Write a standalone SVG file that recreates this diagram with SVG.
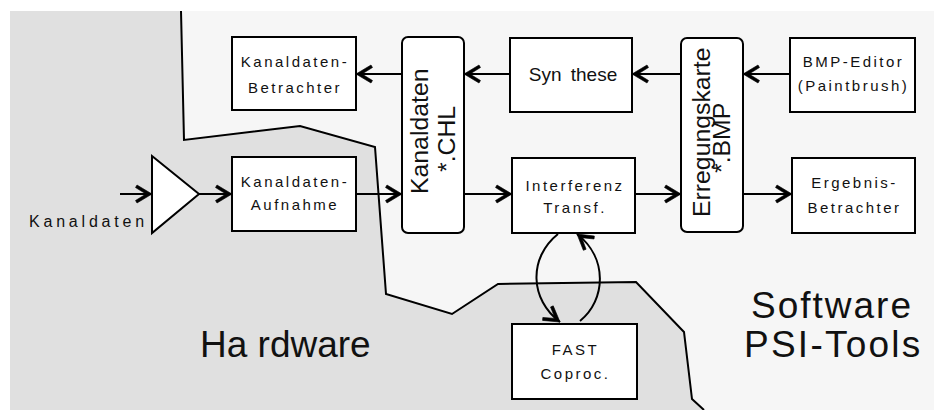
<svg xmlns="http://www.w3.org/2000/svg" width="934" height="410" viewBox="0 0 934 410">
<style>
.box{fill:#fff;stroke:#000;stroke-width:2}
.lbl{font-family:"Liberation Sans",Arial,sans-serif;font-size:15px;letter-spacing:2.5px;text-anchor:middle;fill:#111}
.big{font-family:"Liberation Sans",Arial,sans-serif;font-size:37px;fill:#111}
.rot{font-family:"Liberation Sans",Arial,sans-serif;font-size:24.8px;fill:#111}
.con{fill:none;stroke:#000;stroke-width:2;marker-end:url(#ah)}
</style>
<defs>
<marker id="ah" markerUnits="userSpaceOnUse" markerWidth="20" markerHeight="20" viewBox="-18 -10 20 20" refX="0" refY="0" orient="auto">
<path d="M0,0 L-15,-9 L-16.5,-6.5 L-6,0 L-16.5,6.5 L-15,9 Z" fill="#000" stroke="#000" stroke-width="0.6"/>
</marker>
</defs>
<rect x="0" y="0" width="934" height="410" fill="#fff"/>
<rect x="10" y="11" width="924" height="399" fill="#f6f6f6"/>
<polygon points="10,11 181,11 184,140 300,126 375,147 386,294 452,314 498,284 636,282 684,332 692,399 704,410 10,410" fill="#e0e0e0"/>
<polyline points="181,11 184,140 300,126 375,147 386,294 452,314 498,284 636,282 684,332 692,399 704,410" fill="none" stroke="#000" stroke-width="2"/>

<g id="connectors">
<line class="con" x1="120" y1="194" x2="152" y2="194"/>
<line class="con" x1="199" y1="194" x2="232" y2="194"/>
<line class="con" x1="356" y1="194" x2="402" y2="194"/>
<line class="con" x1="464" y1="194" x2="512" y2="194"/>
<line class="con" x1="635" y1="194" x2="681" y2="194"/>
<line class="con" x1="743" y1="194" x2="792" y2="194"/>
<line class="con" x1="790" y1="74" x2="743" y2="74"/>
<line class="con" x1="681" y1="74" x2="632" y2="74"/>
<line class="con" x1="510" y1="74" x2="464" y2="74"/>
<line class="con" x1="402" y1="74" x2="356" y2="74"/>
<path class="con" d="M558,234 C528,258 530,300 560,322"/>
<path class="con" d="M580,321 C606,300 608,258 577,234"/>
</g>

<g id="input">
<text x="29" y="227" style="font-family:'Liberation Sans',Arial,sans-serif;font-size:16px;letter-spacing:3.8px;fill:#111">Kanaldaten</text>
</g>
<g id="amplifier">
<polygon points="152,156 199,194 152,233" fill="#fff" stroke="#000" stroke-width="2"/>
</g>
<g id="kanaldaten-betrachter">
<rect class="box" x="232" y="37" width="124" height="73"/>
<text class="lbl" x="295" y="67">Kanaldaten-</text>
<text class="lbl" x="295" y="93">Betrachter</text>
</g>
<g id="kanaldaten-aufnahme">
<rect class="box" x="232" y="157" width="124" height="74"/>
<text class="lbl" x="295" y="187">Kanaldaten-</text>
<text class="lbl" x="295" y="210">Aufnahme</text>
</g>
<g id="kanaldaten-chl">
<rect class="box" x="402" y="37" width="62" height="196" rx="6"/>
<text class="rot" transform="translate(428,194) rotate(-90)">Kanaldaten</text>
<text class="rot" transform="translate(455,172) rotate(-90)">*.CHL</text>
</g>
<g id="synthese">
<rect class="box" x="510" y="38" width="122" height="74"/>
<text x="573" y="81" style="font-family:'Liberation Sans',Arial,sans-serif;font-size:19px;word-spacing:4px;text-anchor:middle;fill:#111">Syn these</text>
</g>
<g id="interferenz">
<rect class="box" x="512" y="158" width="123" height="75"/>
<text class="lbl" x="575" y="191">Interferenz</text>
<text class="lbl" x="575" y="213">Transf.</text>
</g>
<g id="erregungskarte">
<rect class="box" x="681" y="38" width="62" height="194" rx="6"/>
<text class="rot" transform="translate(710,217) rotate(-90)">Erregungskarte</text>
<text class="rot" transform="translate(730,173) rotate(-90)">*.BMP</text>
</g>
<g id="bmp-editor">
<rect class="box" x="790" y="38" width="125" height="74"/>
<text class="lbl" x="853.5" y="67">BMP-Editor</text>
<text class="lbl" x="853.5" y="91">(Paintbrush)</text>
</g>
<g id="ergebnis-betrachter">
<rect class="box" x="792" y="158" width="123" height="75"/>
<text class="lbl" x="854.5" y="188">Ergebnis-</text>
<text class="lbl" x="854.5" y="213">Betrachter</text>
</g>
<g id="fast">
<rect class="box" x="512" y="324" width="125" height="75"/>
<text class="lbl" x="575.5" y="355">FAST</text>
<text class="lbl" x="575.5" y="379">Coproc.</text>
</g>
<g id="region-labels">
<text class="big" x="200" y="357">Ha rdware</text>
<text class="big" x="751" y="318" style="letter-spacing:2px">Software</text>
<text class="big" x="744" y="357" style="letter-spacing:2.25px">PSI-Tools</text>
</g>
</svg>
